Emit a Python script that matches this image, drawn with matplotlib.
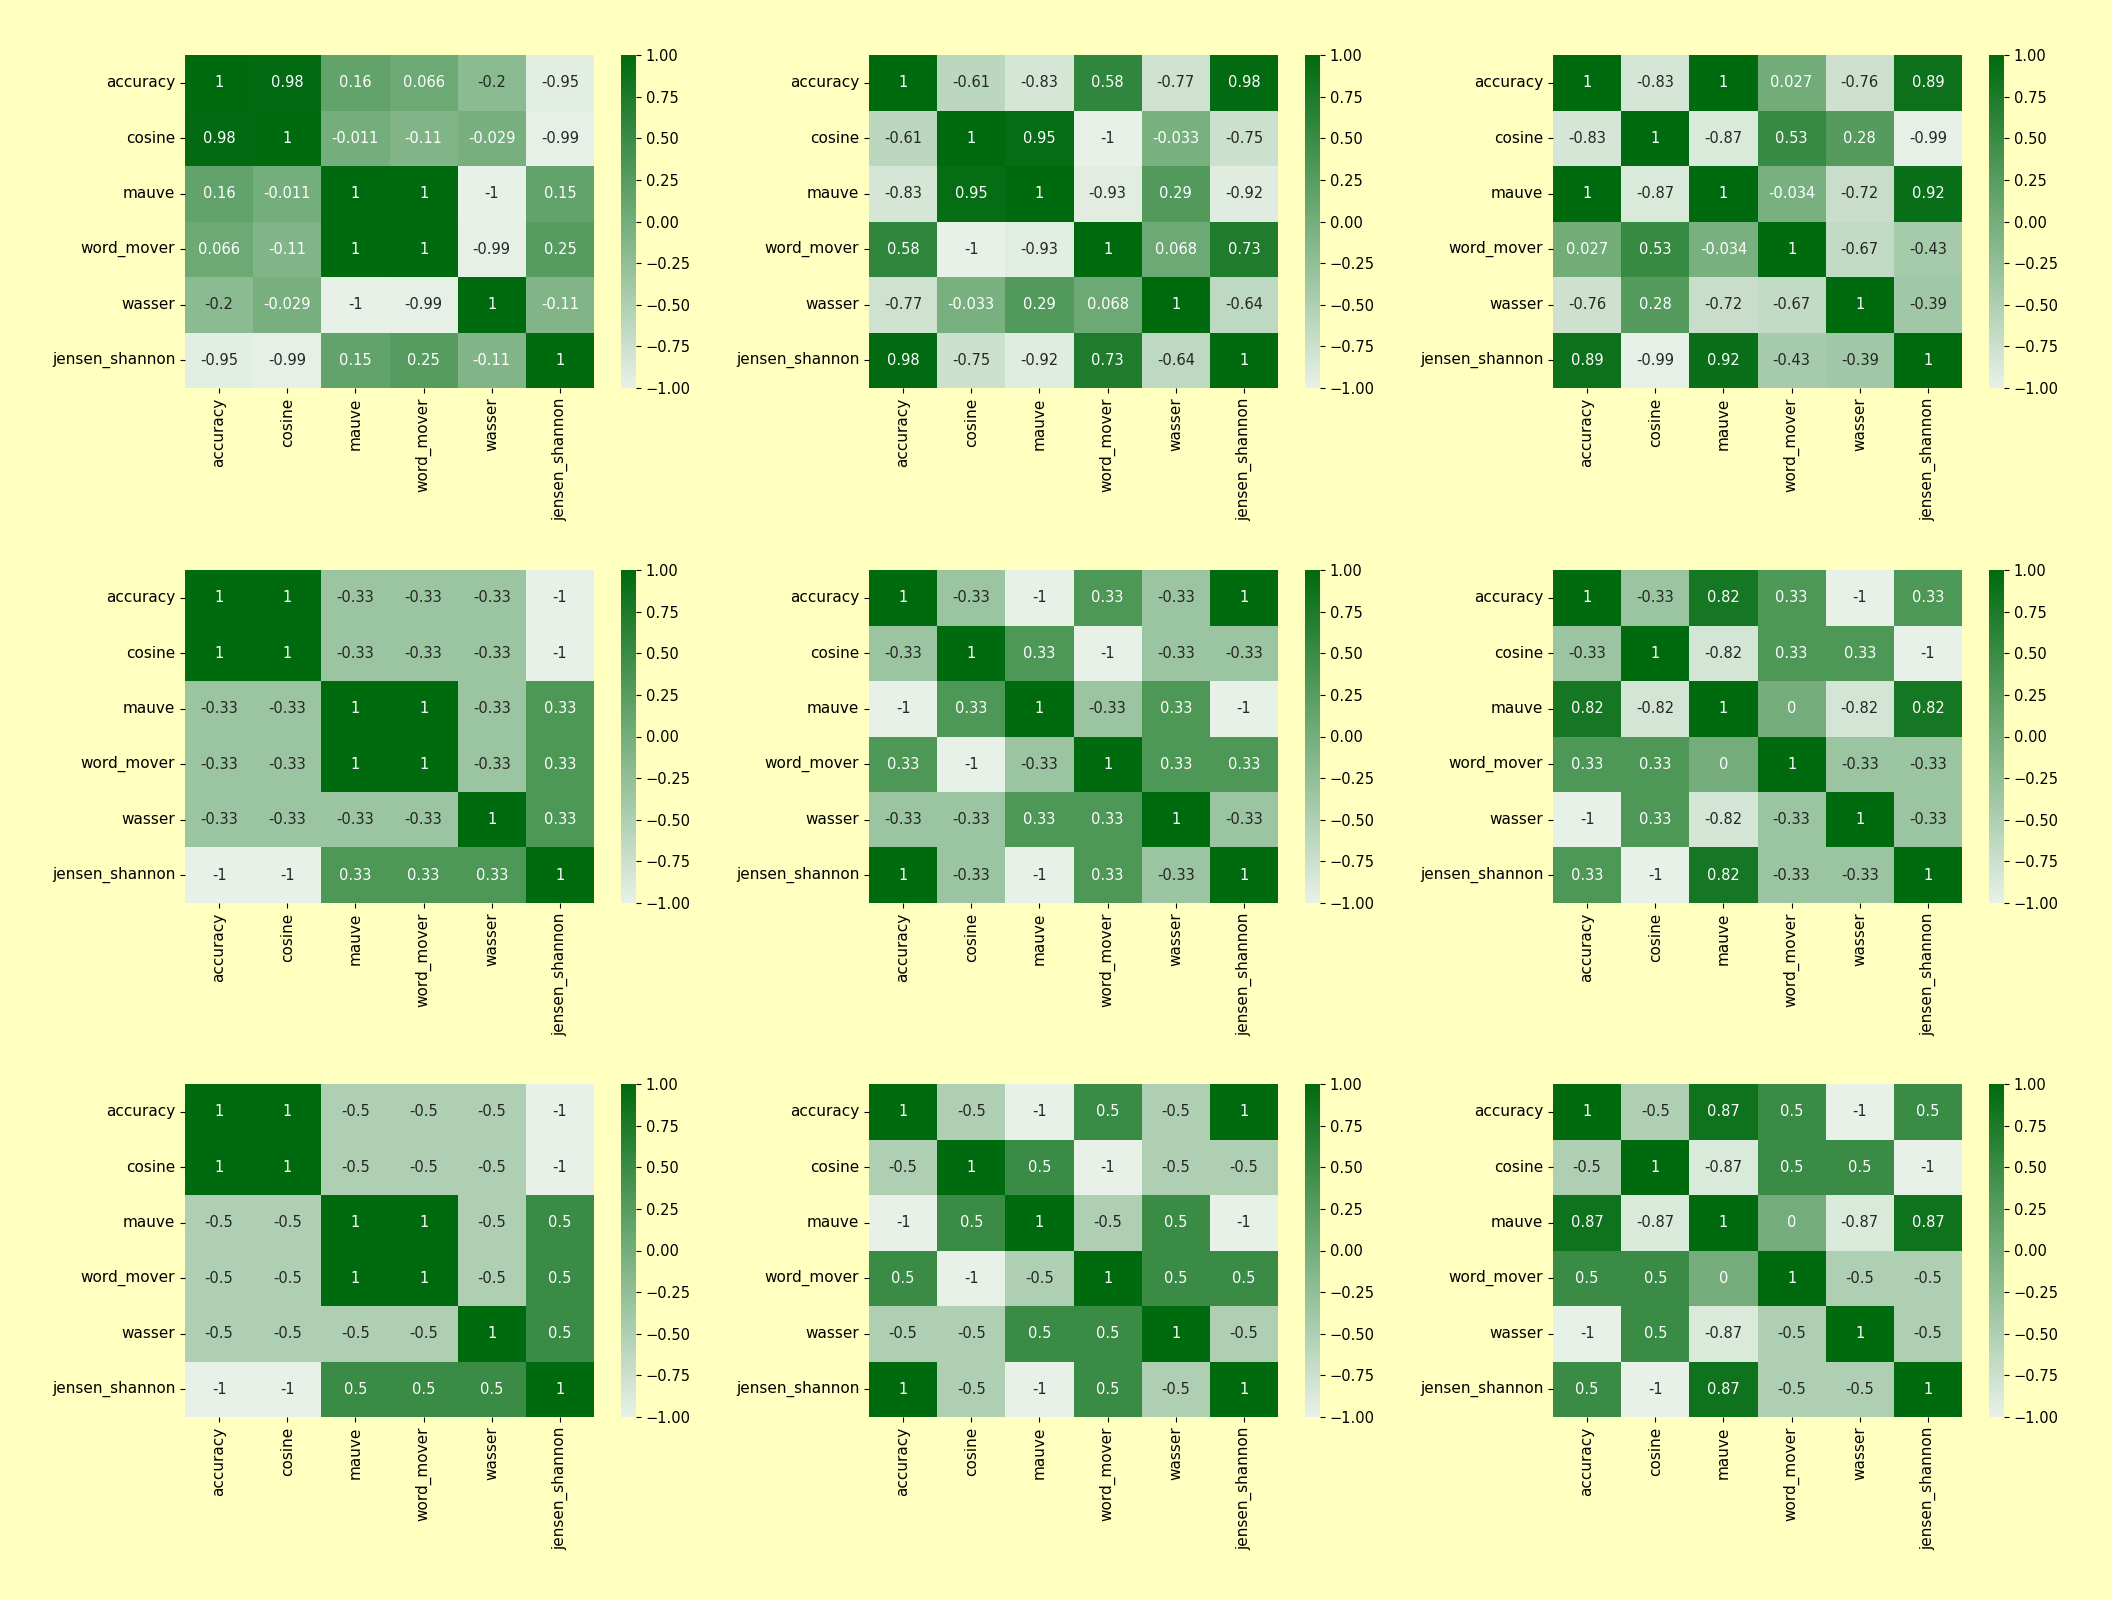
import numpy as np
import matplotlib
matplotlib.use("Agg")
import matplotlib.pyplot as plt
import seaborn as sns
from matplotlib.colors import LinearSegmentedColormap

metrics = ['accuracy', 'cosine', 'mauve', 'word_mover', 'wasser', 'jensen_shannon']

corr_1 = [[1, 0.98, 0.16, 0.066, -0.2, -0.95],
          [0.98, 1, -0.011, -0.11, -0.029, -0.99],
          [0.16, -0.011, 1, 1, -1, 0.15],
          [0.066, -0.11, 1, 1, -0.99, 0.25],
          [-0.2, -0.029, -1, -0.99, 1, -0.11],
          [-0.95, -0.99, 0.15, 0.25, -0.11, 1]]

corr_2 = [[1, -0.61, -0.83, 0.58, -0.77, 0.98],
          [-0.61, 1, 0.95, -1, -0.033, -0.75],
          [-0.83, 0.95, 1, -0.93, 0.29, -0.92],
          [0.58, -1, -0.93, 1, 0.068, 0.73],
          [-0.77, -0.033, 0.29, 0.068, 1, -0.64],
          [0.98, -0.75, -0.92, 0.73, -0.64, 1]]

corr_3 = [[1, -0.83, 1, 0.027, -0.76, 0.89],
          [-0.83, 1, -0.87, 0.53, 0.28, -0.99],
          [1, -0.87, 1, -0.034, -0.72, 0.92],
          [0.027, 0.53, -0.034, 1, -0.67, -0.43],
          [-0.76, 0.28, -0.72, -0.67, 1, -0.39],
          [0.89, -0.99, 0.92, -0.43, -0.39, 1]]

corr_4 = [[1, 1, -0.33, -0.33, -0.33, -1],
          [1, 1, -0.33, -0.33, -0.33, -1],
          [-0.33, -0.33, 1, 1, -0.33, 0.33],
          [-0.33, -0.33, 1, 1, -0.33, 0.33],
          [-0.33, -0.33, -0.33, -0.33, 1, 0.33],
          [-1, -1, 0.33, 0.33, 0.33, 1]]

corr_5 = [[1, -0.33, -1, 0.33, -0.33, 1],
          [-0.33, 1, 0.33, -1, -0.33, -0.33],
          [-1, 0.33, 1, -0.33, 0.33, -1],
          [0.33, -1, -0.33, 1, 0.33, 0.33],
          [-0.33, -0.33, 0.33, 0.33, 1, -0.33],
          [1, -0.33, -1, 0.33, -0.33, 1]]

corr_6 = [[1, -0.33, 0.82, 0.33, -1, 0.33],
          [-0.33, 1, -0.82, 0.33, 0.33, -1],
          [0.82, -0.82, 1, 0, -0.82, 0.82],
          [0.33, 0.33, 0, 1, -0.33, -0.33],
          [-1, 0.33, -0.82, -0.33, 1, -0.33],
          [0.33, -1, 0.82, -0.33, -0.33, 1]]

corr_7 = [[1, 1, -0.5, -0.5, -0.5, -1],
          [1, 1, -0.5, -0.5, -0.5, -1],
          [-0.5, -0.5, 1, 1, -0.5, 0.5],
          [-0.5, -0.5, 1, 1, -0.5, 0.5],
          [-0.5, -0.5, -0.5, -0.5, 1, 0.5],
          [-1, -1, 0.5, 0.5, 0.5, 1]]

corr_8 = [[1, -0.5, -1, 0.5, -0.5, 1],
          [-0.5, 1, 0.5, -1, -0.5, -0.5],
          [-1, 0.5, 1, -0.5, 0.5, -1],
          [0.5, -1, -0.5, 1, 0.5, 0.5],
          [-0.5, -0.5, 0.5, 0.5, 1, -0.5],
          [1, -0.5, -1, 0.5, -0.5, 1]]

corr_9 = [[1, -0.5, 0.87, 0.5, -1, 0.5],
          [-0.5, 1, -0.87, 0.5, 0.5, -1],
          [0.87, -0.87, 1, 0, -0.87, 0.87],
          [0.5, 0.5, 0, 1, -0.5, -0.5],
          [-1, 0.5, -0.87, -0.5, 1, -0.5],
          [0.5, -1, 0.87, -0.5, -0.5, 1]]

all_corr = [corr_1, corr_2, corr_3, corr_4, corr_5, corr_6, corr_7, corr_8, corr_9]
cbar_ticks = [-1, -0.75, -0.5, -0.25, 0, 0.25, 0.5, 0.75, 1]

bg = '#ffffc0'
cmap = LinearSegmentedColormap.from_list('greens_light', ['#e8f1e8', '#006a0f'])

fig = plt.figure(figsize=(21.12, 16), dpi=100, facecolor=bg)

# pixel layout of the 3x3 grid
lefts = [185, 869, 1553]
tops = [55, 570, 1084]
W, H = 2112, 1600
hw, hh = 409, 333

for i, corr in enumerate(all_corr):
    r, c = divmod(i, 3)
    x0 = lefts[c]
    y0 = tops[r]
    ax = fig.add_axes([x0 / W, 1 - (y0 + hh) / H, hw / W, hh / H])
    cax = fig.add_axes([(x0 + hw + 27) / W, 1 - (y0 + hh) / H, 15 / W, hh / H])
    sns.heatmap(np.array(corr), annot=True, cmap=cmap, vmin=-1, vmax=1,
                xticklabels=metrics, yticklabels=metrics, ax=ax, cbar_ax=cax,
                annot_kws={'fontsize': 10.5})
    ax.set_yticklabels(metrics, rotation=0, fontsize=11)
    ax.set_xticklabels(metrics, rotation=90, fontsize=11)
    cax.set_yticks(cbar_ticks)
    cax.set_yticklabels(['%.2f' % v if v >= 0 else '\u2212%.2f' % -v
                         for v in cbar_ticks])
    cax.tick_params(labelsize=10.5)

fig.savefig('out.png', dpi=100, facecolor=bg)
